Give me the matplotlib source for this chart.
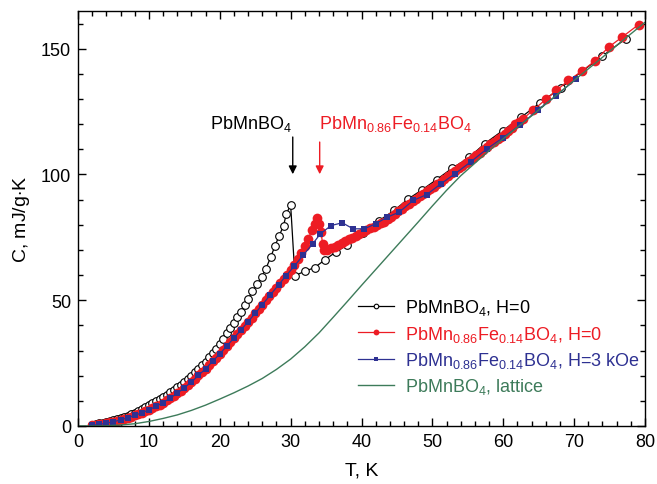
import matplotlib
matplotlib.use("Agg")
import matplotlib.pyplot as plt
from matplotlib.ticker import MultipleLocator

plt.rcParams['font.family'] = ['Liberation Sans', 'DejaVu Sans']
plt.rcParams['mathtext.fontset'] = 'custom'
plt.rcParams['mathtext.rm'] = 'Liberation Sans'

# PbMnBO4, H=0
T_mn = [2.0, 2.5, 3.0, 3.5, 4.0, 4.5, 5.0, 5.5, 6.0, 6.5, 7.0, 7.5, 8.0, 8.5, 9.0, 9.5,
        10.0, 10.5, 11.0, 11.5, 12.0, 12.5, 13.0, 13.5, 14.0, 14.5, 15.0, 15.5, 16.0, 16.5,
        17.0, 17.5, 18.0, 18.5, 19.0, 19.5, 20.0, 20.5, 21.0, 21.5, 22.0, 22.5, 23.0, 23.5,
        24.0, 24.6, 25.3, 25.9, 26.5, 27.2, 27.8, 28.4, 29.0, 29.4, 30.0,
        30.6, 32.0, 33.4, 34.8, 36.4, 38.0, 40.2, 42.4, 44.6, 46.6, 48.6, 50.6, 52.8, 55.2,
        57.4, 59.9, 62.5, 65.2, 68.1, 71.1, 74.0, 77.3]
C_mn = [0.5, 0.7, 1.0, 1.3, 1.6, 1.95, 2.3, 2.7, 3.1, 3.6, 4.1, 4.7, 5.3, 6.0, 6.7, 7.4,
        8.2, 9.0, 9.8, 10.6, 11.5, 12.4, 13.4, 14.4, 15.4, 16.5, 17.6, 18.8, 20.0, 21.3,
        22.7, 24.1, 25.6, 27.3, 29.0, 30.8, 32.7, 34.7, 36.8, 38.9, 41.0, 43.2, 45.5, 48.0,
        50.5, 53.5, 56.5, 59.3, 62.5, 67.2, 71.7, 75.7, 79.7, 84.3, 88.0,
        59.8, 61.5, 63.0, 66.0, 69.2, 72.0, 76.8, 81.5, 85.7, 90.3, 94.0, 98.0, 102.5, 106.8,
        112.3, 117.4, 122.7, 128.5, 134.4, 141.0, 147.1, 154.0]

# PbMn0.86Fe0.14BO4, H=0
T_fe0 = [2.0, 2.5, 3.0, 3.5, 4.0, 4.5, 5.0, 5.5, 6.0, 6.5, 7.0, 7.5, 8.0, 8.5, 9.0, 9.5,
         10.0, 10.5, 11.0, 11.5, 12.0, 12.5, 13.0, 13.5, 14.0, 14.5, 15.0, 15.5, 16.0, 16.5,
         17.0, 17.5, 18.0, 18.5, 19.0, 19.5, 20.0, 20.5, 21.0, 21.5, 22.0, 22.5, 23.0, 23.5,
         24.0, 24.5, 25.0, 25.5, 26.0, 26.5, 27.0, 27.5, 28.0, 28.5, 29.0, 29.5, 30.0, 30.5,
         31.0, 31.5, 32.0, 32.5, 33.0, 33.4, 33.7, 34.0, 34.3, 34.5, 34.7,
         35.2, 35.7, 36.2, 36.7, 37.2, 37.7, 38.2, 38.7, 39.2, 39.7, 40.2, 40.7, 41.2, 41.7,
         42.2, 42.7, 43.2, 43.7, 44.2, 44.7, 45.2, 45.7, 46.2, 46.7, 47.2, 47.7, 48.2, 48.7,
         49.2, 49.7, 50.2, 50.7, 51.2, 51.7, 52.2, 52.7, 53.2, 53.7, 54.2, 54.7, 55.2, 55.7,
         56.2, 56.7, 57.2, 57.7, 58.2, 58.7, 59.2, 59.7, 60.2, 60.7, 61.2, 61.7, 62.2, 62.8,
         64.2, 66.1, 67.5, 69.2, 71.1, 72.9, 74.9, 76.8, 79.1]
C_fe0 = [0.3, 0.45, 0.6, 0.85, 1.1, 1.4, 1.7, 2.05, 2.4, 2.8, 3.25, 3.7, 4.2, 4.7, 5.25, 5.8,
         6.4, 7.1, 7.8, 8.5, 9.3, 10.2, 11.1, 12.0, 13.0, 14.1, 15.2, 16.3, 17.5, 18.8,
         20.1, 21.4, 22.8, 24.2, 25.7, 27.2, 28.7, 30.2, 31.8, 33.4, 35.0, 36.6, 38.2, 39.8,
         41.5, 43.1, 44.8, 46.5, 48.2, 49.9, 51.6, 53.3, 55.0, 56.7, 58.5, 60.2, 62.0, 64.0,
         66.2, 68.7, 71.5, 74.5, 78.0, 80.5, 82.6, 80.4, 77.0, 72.5, 69.8,
         70.0, 70.6, 71.3, 72.0, 72.7, 73.5, 74.2, 74.9, 75.6, 76.4, 77.1, 77.9, 78.6, 79.3,
         80.0, 80.6, 81.2, 82.2, 83.2, 84.3, 85.3, 86.3, 87.3, 88.3, 89.3, 90.4, 91.4, 92.4,
         93.3, 94.2, 95.2, 96.2, 97.2, 98.3, 99.4, 100.4, 101.4, 102.5, 103.5, 104.5, 105.5, 106.6,
         107.6, 108.7, 109.8, 110.9, 112.0, 113.0, 114.1, 115.1, 116.1, 117.3, 118.6, 120.0, 121.0, 122.2,
         125.5, 130.1, 133.4, 137.4, 141.1, 145.1, 150.7, 154.7, 159.6]

# PbMn0.86Fe0.14BO4, H=3 kOe
T_fe3 = [2.0, 3.0, 4.0, 5.0, 6.0, 7.0, 8.0, 9.0, 10.0, 11.0, 12.0, 13.0, 14.0, 15.0, 16.0,
         17.0, 18.0, 19.0, 20.0, 21.0, 22.0, 23.0, 24.0, 25.0, 26.0, 27.1, 28.3, 29.3, 30.5,
         31.8, 33.1, 34.2, 35.7, 37.3, 38.8, 40.4, 42.0, 43.6, 45.3, 47.3, 49.2, 51.2, 53.2,
         55.4, 57.7, 60.0, 62.4, 64.9, 67.5, 70.2]
C_fe3 = [0.3, 0.65, 1.1, 1.7, 2.4, 3.25, 4.2, 5.25, 6.4, 7.8, 9.3, 11.1, 13.0, 15.2, 17.5,
         20.1, 22.8, 25.7, 28.7, 31.8, 35.0, 38.2, 41.5, 44.8, 48.2, 52.0, 56.1, 59.6, 63.5,
         68.0, 72.4, 76.4, 79.7, 80.8, 78.4, 78.4, 80.4, 83.0, 85.0, 89.7, 92.0, 96.3, 100.3,
         105.0, 110.2, 114.7, 119.7, 125.7, 131.4, 137.8]

# PbMnBO4, lattice
T_lat = [0, 2, 4, 6, 8, 10, 12, 14, 16, 18, 20, 22, 24, 26, 28, 30, 32, 34, 36, 38, 40,
         42, 44, 46, 48, 50, 52, 54, 56, 58, 60, 62, 64, 66, 68, 70, 72, 74, 76, 78, 80]
C_lat = [0, 0.02, 0.1, 0.4, 0.9, 1.8, 3.0, 4.4, 6.2, 8.3, 10.7, 13.2, 15.9, 18.9, 22.5,
         26.6, 31.5, 37.0, 43.2, 49.5, 55.9, 62.2, 68.5, 74.8, 81.1, 87.5, 93.7, 99.5,
         104.5, 109.5, 114.2, 118.8, 123.3, 128.0, 132.7, 137.4, 142.0, 146.6, 151.3,
         155.9, 160.5]

red = '#ed1c24'
blue = '#2e3192'
green = '#3d7b5a'

fig = plt.figure(figsize=(6.57, 4.85), dpi=100)
ax = fig.add_axes([78 / 657, 1 - 427 / 485, 567 / 657, 415 / 485])

ax.plot(T_mn, C_mn, '-o', color='k', lw=0.9, ms=5.5, mfc='white', mec='k', mew=0.8,
        label=r'PbMnBO$_\mathregular{4}$, H=0')
ax.plot(T_fe0, C_fe0, '-o', color=red, lw=0.9, ms=7, mec=red, mew=0,
        label=r'PbMn$_\mathregular{0.86}$Fe$_\mathregular{0.14}$BO$_\mathregular{4}$, H=0')
ax.plot(T_fe3, C_fe3, '-s', color=blue, lw=0.9, ms=5, mec=blue, mew=0,
        label=r'PbMn$_\mathregular{0.86}$Fe$_\mathregular{0.14}$BO$_\mathregular{4}$, H=3 kOe')
ax.plot(T_lat, C_lat, '-', color=green, lw=1.0,
        label=r'PbMnBO$_\mathregular{4}$, lattice')

ax.set_xlim(0, 80)
ax.set_ylim(0, 165)
ax.xaxis.set_major_locator(MultipleLocator(10))
ax.xaxis.set_minor_locator(MultipleLocator(2))
ax.yaxis.set_major_locator(MultipleLocator(50))
ax.yaxis.set_minor_locator(MultipleLocator(10))
ax.tick_params(which='both', direction='in', top=True, right=True, labelsize=13)
ax.tick_params(which='major', length=6, width=1, pad=5)
ax.tick_params(which='minor', length=3.5, width=1)
for s in ax.spines.values():
    s.set_linewidth(1)

ax.set_xlabel('T, K', fontsize=14, labelpad=8)
ax.set_ylabel(r'C, mJ/g$\cdot$K', fontsize=14, labelpad=6)

# arrows and labels for transitions
ax.annotate('', xy=(30.3, 99), xytext=(30.3, 116),
            arrowprops=dict(arrowstyle='-|>', color='k', lw=1, mutation_scale=12))
ax.annotate('', xy=(34.1, 99), xytext=(34.1, 114),
            arrowprops=dict(arrowstyle='-|>', color=red, lw=1, mutation_scale=12))
ax.text(18.6, 118.3, r'PbMnBO$_\mathregular{4}$', fontsize=13, color='k', va='baseline')
ax.text(34.0, 118.3, r'PbMn$_\mathregular{0.86}$Fe$_\mathregular{0.14}$BO$_\mathregular{4}$',
        fontsize=13, color=red, va='baseline')

leg = ax.legend(loc='upper left', bbox_to_anchor=(0.494, 0.31), frameon=False, fontsize=13,
                borderpad=0, borderaxespad=0, handlelength=2.0, handletextpad=0.6,
                labelspacing=0.35, markerscale=0.6)
for txt, c in zip(leg.get_texts(), ['k', red, blue, green]):
    txt.set_color(c)

fig.savefig('out.png', dpi=100)
